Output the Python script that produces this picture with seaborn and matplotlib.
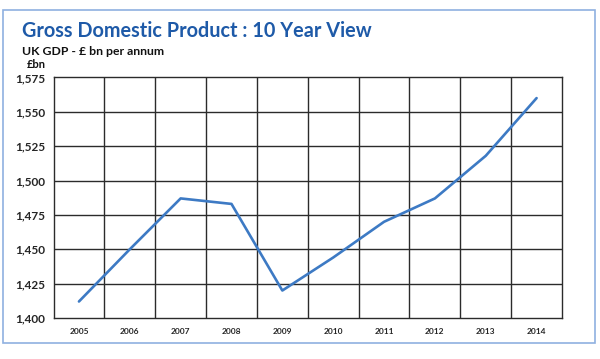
import matplotlib
matplotlib.use("Agg")
import matplotlib.pyplot as plt
import seaborn as sns
import pandas as pd
import numpy as np
from matplotlib.patches import Rectangle

# --- DATA ---
years = ["2005", "2006", "2007", "2008", "2009", "2010", "2011", "2012", "2013", "2014"]
gdp = [1412, 1450, 1487, 1483, 1420, 1444, 1470, 1487, 1518, 1560]
y_ticks = [1400, 1425, 1450, 1475, 1500, 1525, 1550, 1575]

df = pd.DataFrame({"year": years, "gdp": gdp})

sns.set_style("white")
plt.rcParams["font.family"] = ["Lato", "DejaVu Sans"]

fig = plt.figure(figsize=(6, 3.59), dpi=100)
ax = fig.add_axes([0.0892, 0.1142, 0.8475, 0.670])

sns.lineplot(data=df, x="year", y="gdp", color="#3D7AC4", linewidth=1.9, ax=ax)

grid_col = "#2b2b2b"
ax.set_xlim(-0.5, len(years) - 0.5)
ax.set_ylim(y_ticks[0], y_ticks[-1])
ax.set_yticks(y_ticks)
ax.set_yticklabels([f"{v:,}" for v in y_ticks], fontsize=8.5, fontweight="bold")
ax.set_xticks(range(len(years)))
ax.set_xticklabels(years, fontsize=6, fontweight="bold")
ax.grid(False)
for y in y_ticks[1:-1]:
    ax.axhline(y, color=grid_col, linewidth=1.0, zorder=1)
for x in np.arange(0.5, len(years) - 0.5, 1):
    ax.axvline(x, color=grid_col, linewidth=1.0, zorder=1)
for s in ax.spines.values():
    s.set_color(grid_col)
    s.set_linewidth(1.0)
ax.tick_params(axis="y", length=4, width=0.8, color=grid_col, pad=2)
ax.tick_params(axis="x", length=0, pad=7)
ax.set_xlabel("")
ax.set_ylabel("")

# titles
fig.text(22 / 600, 1 - 37 / 359, "Gross Domestic Product : 10 Year View",
         fontsize=14.3, fontweight="bold", color="#1E5AA8")
fig.text(22 / 600, 1 - 55 / 359, "UK GDP - £ bn per annum",
         fontsize=8.8, fontweight="bold", color="#111111")
fig.text(27 / 600, 1 - 68 / 359, "£bn", fontsize=8, fontweight="bold", color="#111111")

# outer border
fig.patches.append(Rectangle((3 / 600, 16 / 359), 592 / 600, 333 / 359,
                             transform=fig.transFigure, fill=False,
                             edgecolor="#8FB0E0", linewidth=1.2))

fig.savefig("out.png", dpi=100)
